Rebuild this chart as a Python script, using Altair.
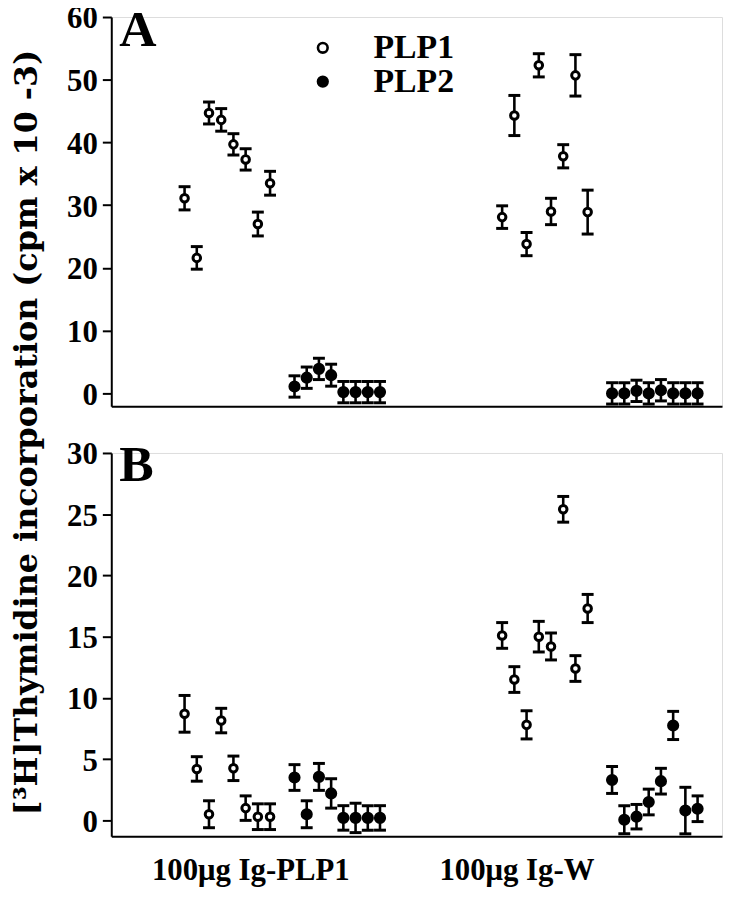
import altair as alt
import pandas as pd

groups = ["100μg Ig-PLP1", "100μg Ig-W"]
series = ["PLP1", "PLP2"]
group_label_pos = [11.38, 33.17]
group_start = [6, 32]

# Panel A values (cpm x 10^-3) and SEM
a_plp1_igplp1 = [31.1, 21.6, 44.7, 43.6, 39.7, 37.3, 27.0, 33.5]
a_plp1_igplp1_err = [1.85, 1.8, 1.75, 1.8, 1.7, 1.7, 1.9, 1.9]
a_plp2_igplp1 = [1.1, 2.5, 3.9, 2.9, 0.2, 0.2, 0.2, 0.2]
a_plp2_igplp1_err = [1.7, 1.7, 1.7, 1.75, 1.7, 1.7, 1.7, 1.7]
a_plp1_igw = [28.1, 44.3, 23.8, 52.3, 29.0, 37.8, 50.7, 28.9]
a_plp1_igw_err = [1.8, 3.2, 1.85, 1.85, 2.1, 1.85, 3.3, 3.5]
a_plp2_igw = [0.0, 0.0, 0.4, 0.0, 0.5, 0.0, 0.0, 0.0]
a_plp2_igw_err = [1.7, 1.7, 1.7, 1.7, 1.7, 1.7, 1.7, 1.7]

# Panel B values
b_plp1_igplp1 = [8.7, 4.2, 0.5, 8.15, 4.25, 1.0, 0.3, 0.3]
b_plp1_igplp1_err = [1.5, 1.0, 1.1, 1.0, 1.0, 1.0, 1.05, 1.05]
b_plp2_igplp1 = [3.5, 0.5, 3.55, 2.2, 0.2, 0.2, 0.2, 0.2]
b_plp2_igplp1_err = [1.05, 1.1, 1.1, 1.2, 1.0, 1.2, 1.0, 1.0]
b_plp1_igw = [15.1, 11.5, 7.8, 15.0, 14.2, 25.4, 12.4, 17.3]
b_plp1_igw_err = [1.05, 1.05, 1.15, 1.25, 1.1, 1.05, 1.05, 1.15]
b_plp2_igw = [3.3, 0.05, 0.3, 1.5, 3.2, 7.75, 0.8, 0.95]
b_plp2_igw_err = [1.1, 1.15, 1.0, 1.05, 1.05, 1.15, 1.9, 1.05]

y_title = "[³H]Thymidine incorporation (cpm x 10 -3)"
SERIF = "Liberation Serif"


def build(sets):
    rows = []
    for g, s, vals, errs in sets:
        off = group_start[g] + (0 if s == "PLP1" else 9)
        for i, (v, e) in enumerate(zip(vals, errs)):
            rows.append({"slot": off + i, "value": v, "lo": v - e, "hi": v + e,
                         "series": s, "group": groups[g]})
    return pd.DataFrame(rows)


dfA = build([
    (0, "PLP1", a_plp1_igplp1, a_plp1_igplp1_err),
    (0, "PLP2", a_plp2_igplp1, a_plp2_igplp1_err),
    (1, "PLP1", a_plp1_igw, a_plp1_igw_err),
    (1, "PLP2", a_plp2_igw, a_plp2_igw_err),
])
dfB = build([
    (0, "PLP1", b_plp1_igplp1, b_plp1_igplp1_err),
    (0, "PLP2", b_plp2_igplp1, b_plp2_igplp1_err),
    (1, "PLP1", b_plp1_igw, b_plp1_igw_err),
    (1, "PLP2", b_plp2_igw, b_plp2_igw_err),
])

xscale = alt.Scale(domain=[0, 50], nice=False, zero=False)
fill_scale = alt.Scale(domain=series, range=["white", "black"])
label_expr = f"datum.value < 22 ? '{groups[0]}' : '{groups[1]}'"


def panel(df, ydom, xaxis, yaxis, letter, letter_y, show_legend, height):
    yscale = alt.Scale(domain=ydom, nice=False, zero=False)
    base = alt.Chart(df)
    x = alt.X("slot:Q", scale=xscale, axis=xaxis)
    rule = base.mark_rule(color="black", strokeWidth=2.6).encode(
        x=x, y=alt.Y("lo:Q", scale=yscale, axis=yaxis), y2="hi:Q")
    caps = base.transform_fold(["lo", "hi"], as_=["end", "pos"]).mark_tick(
        orient="horizontal", size=12, thickness=3, color="black", opacity=1).encode(
        x=x, y=alt.Y("pos:Q", scale=yscale))
    if show_legend:
        leg = alt.Legend(title=None, orient="none", legendX=196, legendY=14,
                         symbolType="circle", symbolSize=95,
                         symbolStrokeColor="black", symbolStrokeWidth=2.6,
                         labelFont=SERIF, labelFontWeight="bold",
                         labelFontSize=34, labelColor="black",
                         labelOffset=34, rowPadding=0)
    else:
        leg = None
    fill = alt.Fill("series:N", scale=fill_scale, legend=leg)
    pts_open = base.transform_filter(alt.datum.series == series[0]).mark_point(
        shape="circle", filled=True, stroke="black", strokeWidth=3,
        opacity=1, size=58).encode(x=x, y=alt.Y("value:Q", scale=yscale), fill=fill)
    pts_full = base.transform_filter(alt.datum.series == series[1]).mark_point(
        shape="circle", filled=True, stroke="black", strokeWidth=2.0,
        opacity=1, size=105).encode(x=x, y=alt.Y("value:Q", scale=yscale), fill=fill)
    txt = alt.Chart(pd.DataFrame({"t": [letter]})).mark_text(
        font=SERIF, fontWeight="bold", fontSize=52, align="left",
        baseline="alphabetic", color="black").encode(
        x=alt.value(8), y=alt.value(letter_y), text="t:N")
    return alt.layer(rule, caps, pts_open, pts_full, txt).properties(
        width=615, height=height)


common_y = dict(grid=False, tickSize=9, tickWidth=2, tickColor="black",
                domainColor="black", domainWidth=2, labelFont=SERIF,
                labelFontWeight="bold", labelFontSize=31, labelColor="black",
                labelPadding=5, labelOffset=2)

yaxisA = alt.Axis(values=[0, 10, 20, 30, 40, 50, 60], title=y_title,
                  titleFont="DejaVu Serif", titleFontWeight="bold",
                  titleFontSize=32, titleColor="black", titleX=-68, titleY=418,
                  titleAngle=270, titleAlign="center", titleBaseline="bottom",
                  **common_y)
yaxisB = alt.Axis(values=[0, 5, 10, 15, 20, 25, 30], title=None, **common_y)

xaxisA = alt.Axis(labels=False, ticks=False, title=None, grid=False,
                  domainColor="black", domainWidth=2)
xaxisB = alt.Axis(values=group_label_pos, labelExpr=label_expr, ticks=False,
                  tickSize=0, title=None, grid=False, domainColor="black",
                  domainWidth=2, labelFont=SERIF, labelFontWeight="bold",
                  labelFontSize=31, labelColor="black", labelPadding=20,
                  labelFlush=False, labelOverlap=False, labelBaseline="top",
                  labelLimit=600)

top = panel(dfA, [-2.06, 60], xaxisA, yaxisA, "A", 29, True, 392)
bottom = panel(dfB, [-1.3, 30], xaxisB, yaxisB, "B", 28, False, 386)

chart = alt.vconcat(top, bottom, spacing=47, bounds="flush").resolve_scale(
    fill="independent").resolve_legend(fill="independent").properties(
    padding={"left": 2, "top": -9, "right": 0, "bottom": 0}
).configure_view(strokeWidth=0).configure(background="white")

chart.save("out.html", embed_options={"renderer": "svg", "actions": False})
